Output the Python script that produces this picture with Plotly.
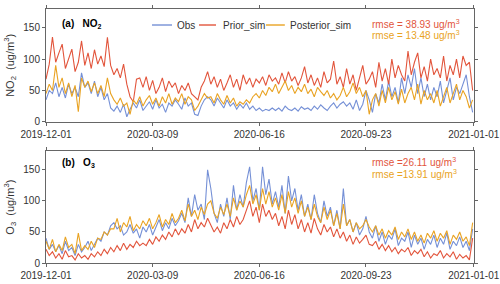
import pandas as pd
import plotly.graph_objects as go
from plotly.subplots import make_subplots

# sampling dates (every 3 days)
dates = pd.date_range("2019-12-01", periods=133, freq="3D")

no2_obs = [35, 50, 45, 62, 40, 55, 38, 60, 45, 55, 40,
           78, 55, 62, 45, 65, 40, 55, 35, 45, 22,
           17, 25, 15, 28, 8, 20, 30, 22, 35, 18,
           25, 32, 20, 35, 22, 28, 15, 30, 25, 35,
           28, 20, 38, 25, 30, 12, 10, 25, 35, 40,
           35, 25, 38, 30, 22, 35, 25, 30, 20, 28,
           22, 30, 20, 25, 18, 22, 17, 20, 18, 22,
           18, 22, 17, 25, 20, 18, 22, 17, 24, 20,
           22, 18, 25, 20, 27, 22, 18, 25, 30, 22,
           28, 32, 25, 30, 20, 35, 18, 28, 50, 35,
           15, 45, 30, 60, 35, 65, 40, 55, 30, 70,
           45, 75, 55, 85, 45, 70, 40, 60, 35, 55,
           40, 65, 30, 50, 70, 35, 55, 45, 60, 75, 40, 15]
no2_prior = [68, 92, 135, 95, 110, 124, 85, 100, 116, 80, 95,
             129, 90, 110, 85, 115, 92, 105, 88, 135, 90,
             75, 85, 70, 92, 60, 40, 32, 68, 70, 55,
             72, 50, 66, 45, 55, 70, 48, 65, 55, 62,
             45, 58, 50, 62, 45, 40, 35, 55, 65, 80,
             60, 72, 55, 68, 50, 62, 75, 55, 68, 50,
             75, 60, 70, 55, 68, 62, 72, 58, 75, 65,
             70, 60, 78, 62, 80, 65, 72, 58, 70, 88,
             62, 75, 58, 70, 55, 80, 62, 68, 97, 60,
             72, 55, 85, 60, 75, 50, 70, 90, 60, 68,
             80, 55, 95, 65, 85, 60, 100, 70, 90, 75,
             65, 113, 75, 95, 110, 70, 88, 65, 100, 75,
             85, 70, 105, 65, 90, 75, 100, 70, 105, 90, 95, 50]
no2_post = [45, 60, 50, 90, 55, 70, 45, 62, 40, 58, 16,
            70, 55, 65, 48, 62, 45, 58, 40, 70, 45,
            35, 28, 38, 25, 30, 12, 35, 28, 40, 25,
            35, 42, 28, 38, 25, 40, 30, 45, 28, 38,
            32, 45, 28, 40, 35, 18, 25, 35, 45, 38,
            40, 30, 45, 35, 28, 42, 30, 38, 25, 32,
            28, 35, 30, 40, 45, 38, 50, 42, 55, 48,
            60, 45, 55, 65, 50, 58, 45, 55, 48, 60,
            45, 52, 40, 55, 48, 42, 50, 38, 45, 35,
            42, 55, 40, 48, 62, 45, 55, 40, 50, 12,
            35, 45, 25, 50, 30, 55, 35, 48, 28, 52,
            30, 45, 55, 35, 60, 28, 50, 35, 45, 30,
            50, 25, 40, 55, 30, 45, 60, 35, 50, 40, 22, 35]

o3_obs = [40, 22, 30, 18, 28, 15, 35, 20, 25, 12, 30,
          18, 25, 35, 20, 30, 40, 35, 50, 45, 60,
          65, 55, 60, 45, 50, 62, 48, 55, 40, 58,
          50, 62, 45, 58, 70, 52, 65, 55, 72, 60,
          68, 80, 65, 105, 75, 110, 85, 95, 70, 150,
          120, 80, 65, 95, 75, 105, 70, 125, 85, 110,
          90, 130, 155, 100, 120, 85, 155, 110, 135, 95,
          115, 90, 125, 80, 140, 100, 120, 85, 110, 75,
          95, 70, 110, 80, 65, 100, 75, 90, 60, 85,
          55, 120, 60, 70, 50, 65, 45, 55, 75, 50,
          40, 60, 35, 50, 30, 45, 38, 55, 28, 40,
          35, 50, 25, 45, 30, 40, 22, 38, 30, 45,
          25, 40, 30, 48, 22, 35, 28, 42, 25, 35, 20, 55]
o3_prior = [22, 12, 18, 8, 15, 6, 20, 10, 12, 5, 15,
            8, 12, 6, 15, 10, 18, 12, 22, 15, 25,
            18, 28, 20, 32, 22, 30, 25, 35, 28, 32,
            28, 38, 30, 42, 35, 45, 38, 50, 42, 55,
            45, 55, 48, 62, 50, 70, 55, 65, 58, 72,
            60, 50, 58, 48, 65, 55, 70, 58, 75, 62,
            70, 85, 100, 75, 90, 65, 95, 75, 85, 70,
            80, 60, 75, 55, 85, 62, 78, 55, 70, 50,
            65, 48, 72, 55, 45, 62, 50, 58, 42, 55,
            40, 50, 35, 45, 30, 42, 32, 38, 45, 30,
            28, 35, 22, 30, 20, 28, 18, 25, 15, 22,
            18, 25, 12, 20, 15, 22, 10, 18, 8, 15,
            12, 20, 8, 15, 10, 18, 6, 14, 8, 12, 5, 40]
o3_post = [35, 22, 38, 18, 30, 20, 42, 25, 30, 15, 48,
           20, 28, 22, 35, 25, 40, 38, 50, 45, 55,
           55, 72, 50, 65, 58, 75, 52, 62, 55, 68,
           60, 72, 55, 65, 78, 58, 70, 62, 80, 65,
           72, 85, 68, 95, 75, 85, 70, 90, 78, 95,
           100, 80, 72, 90, 78, 95, 75, 105, 85, 100,
           90, 110, 125, 95, 110, 85, 120, 95, 115, 90,
           105, 85, 110, 80, 115, 90, 105, 80, 100, 75,
           90, 70, 95, 75, 65, 90, 70, 85, 60, 80,
           55, 95, 60, 70, 50, 65, 55, 60, 70, 58,
           50, 60, 45, 55, 40, 52, 45, 58, 38, 50,
           42, 55, 38, 50, 35, 45, 32, 48, 40, 52,
           35, 48, 40, 52, 30, 45, 38, 50, 35, 42, 28, 65]

tick_vals = ["2019-12-01", "2020-03-09", "2020-06-16", "2020-09-23", "2021-01-01"]
tick_text = ["2019-12-01", "2020-03-09", "2020-06-16", "2020-09-23", "2021-01-01"]
y_ticks = [0, 50, 100, 150]
legend_names = ["Obs", "Prior_sim", "Posterior_sim"]

C_OBS = "#7590d6"
C_PRI = "#e2553c"
C_POS = "#e9a323"
colors = [C_OBS, C_PRI, C_POS]

fig = make_subplots(rows=2, cols=1, vertical_spacing=0.114)

series = [(legend_names[0], C_OBS, no2_obs, o3_obs),
          (legend_names[1], C_PRI, no2_prior, o3_prior),
          (legend_names[2], C_POS, no2_post, o3_post)]
for name, col, top, bot in series:
    fig.add_trace(go.Scatter(x=dates, y=top, mode="lines", name=name, showlegend=False,
                             line=dict(color=col, width=1.1)), row=1, col=1)
    fig.add_trace(go.Scatter(x=dates, y=bot, mode="lines", name=name, showlegend=False,
                             line=dict(color=col, width=1.1)), row=2, col=1)

axcommon = dict(showline=True, linecolor="#666666", linewidth=1, mirror="allticks",
                ticks="outside", ticklen=3, tickcolor="#666666", showgrid=False,
                zeroline=False, automargin=False, tickfont=dict(size=10, color="#333333"))
for r in (1, 2):
    fig.update_xaxes(range=["2019-12-01", "2021-01-01 06:00"], tickvals=tick_vals, ticktext=tick_text,
                     **axcommon, row=r, col=1)
    fig.update_yaxes(range=[0, 180], tickvals=y_ticks, **axcommon, row=r, col=1)

fig.update_yaxes(title=dict(text="NO<sub>2</sub>  (ug/m<sup>3</sup>)", font=dict(size=11, color="#333333"),
                            standoff=6), row=1, col=1)
fig.update_yaxes(title=dict(text="O<sub>3</sub>  (ug/m<sup>3</sup>)", font=dict(size=11, color="#333333"),
                            standoff=6), row=2, col=1)
fig.update_layout(yaxis=dict(domain=[0.556, 1.0]), yaxis2=dict(domain=[0.0, 0.44]))

FONT = "Liberation Sans, Arial"
annots = [
    dict(x=0.033, y=0.941, text="<b>(a)   NO<sub>2</sub></b>", color="#000000"),
    dict(x=0.033, y=0.394, text="<b>(b)   O<sub>3</sub></b>", color="#000000"),
    dict(x=0.757, y=0.941, text="rmse = 38.93 ug/m<sup>3</sup>", color=C_PRI),
    dict(x=0.757, y=0.898, text="rmse = 13.48 ug/m<sup>3</sup>", color=C_POS),
    dict(x=0.757, y=0.398, text="rmse =26.11 ug/m<sup>3</sup>", color=C_PRI),
    dict(x=0.757, y=0.352, text="rmse =13.91 ug/m<sup>3</sup>", color=C_POS),
]
for a in annots:
    fig.add_annotation(x=a["x"], y=a["y"], xref="paper", yref="paper", text=a["text"],
                       showarrow=False, xanchor="left", yanchor="middle",
                       font=dict(size=10, color=a["color"], family=FONT))

# legend (key line + label) in the top panel
leg_y = 0.937
leg_line = [(0.2477, 0.2944), (0.3575, 0.3972), (0.514, 0.558)]
leg_text_x = [0.3014, 0.4089, 0.5654]
for (x0, x1), tx, nm, col in zip(leg_line, leg_text_x, legend_names, colors):
    fig.add_shape(type="line", xref="paper", yref="paper", x0=x0, x1=x1, y0=leg_y, y1=leg_y,
                  line=dict(color=col, width=1.4))
    fig.add_annotation(x=tx, y=leg_y, xref="paper", yref="paper", text=nm, showarrow=False,
                       xanchor="left", yanchor="middle", font=dict(size=10, color="#333333", family=FONT))

fig.update_layout(
    width=500, height=284,
    margin=dict(l=46, r=26, t=9, b=21),
    paper_bgcolor="white", plot_bgcolor="white",
    font=dict(family=FONT, size=10, color="#333333"),
    showlegend=False,
)

fig.write_html("out.html", config={"displayModeBar": False},
               post_script="document.body.style.margin='0';")
